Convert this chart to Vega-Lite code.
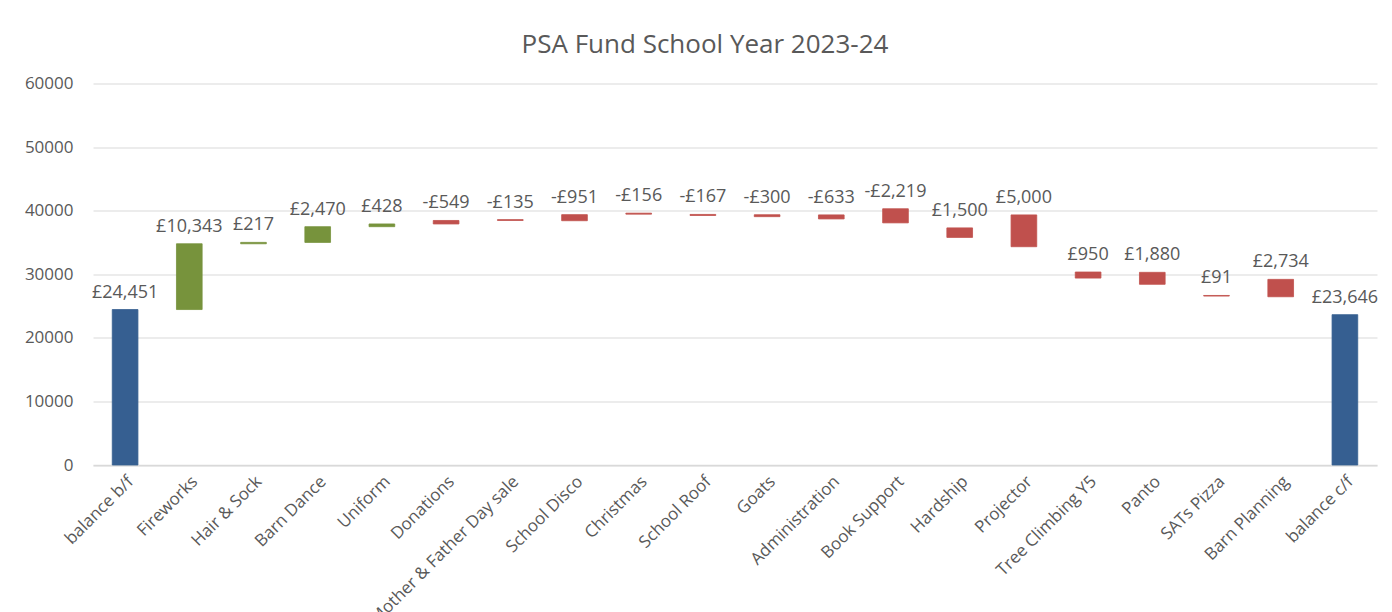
{
  "$schema": "https://vega.github.io/schema/vega-lite/v6.json",
  "width": 1284,
  "height": 381.5,
  "autosize": {"type": "none"},
  "padding": {"left": 93, "top": 83.5, "right": 15, "bottom": 147},
  "background": "white",
  "title": {
    "text": "PSA Fund School Year 2023-24",
    "font": "Open Sans",
    "fontSize": 26,
    "fontWeight": "normal",
    "color": "#595959",
    "anchor": "middle",
    "dx": -30,
    "offset": 17
  },
  "config": {
    "view": {"stroke": null},
    "font": "Open Sans"
  },
  "data": {
    "values": [
      {"cat": "balance b/f", "low": 0, "high": 24451, "type": "total", "label": "£24,451"},
      {"cat": "Fireworks", "low": 24451, "high": 34794, "type": "increase", "label": "£10,343"},
      {"cat": "Hair & Sock", "low": 34794, "high": 35011, "type": "increase", "label": "£217"},
      {"cat": "Barn Dance", "low": 35011, "high": 37481, "type": "increase", "label": "£2,470"},
      {"cat": "Uniform", "low": 37481, "high": 37909, "type": "increase", "label": "£428"},
      {"cat": "Donations", "low": 37909, "high": 38458, "type": "decrease", "label": "-£549"},
      {"cat": "Mother & Father Day sale", "low": 38458, "high": 38593, "type": "decrease", "label": "-£135"},
      {"cat": "School Disco", "low": 38420, "high": 39371, "type": "decrease", "label": "-£951"},
      {"cat": "Christmas", "low": 39450, "high": 39606, "type": "decrease", "label": "-£156"},
      {"cat": "School Roof", "low": 39240, "high": 39407, "type": "decrease", "label": "-£167"},
      {"cat": "Goats", "low": 39060, "high": 39360, "type": "decrease", "label": "-£300"},
      {"cat": "Administration", "low": 38700, "high": 39333, "type": "decrease", "label": "-£633"},
      {"cat": "Book Support", "low": 38080, "high": 40299, "type": "decrease", "label": "-£2,219"},
      {"cat": "Hardship", "low": 35790, "high": 37290, "type": "decrease", "label": "£1,500"},
      {"cat": "Projector", "low": 34330, "high": 39330, "type": "decrease", "label": "£5,000"},
      {"cat": "Tree Climbing Y5", "low": 29400, "high": 30350, "type": "decrease", "label": "£950"},
      {"cat": "Panto", "low": 28420, "high": 30300, "type": "decrease", "label": "£1,880"},
      {"cat": "SATs Pizza", "low": 26570, "high": 26661, "type": "decrease", "label": "£91"},
      {"cat": "Barn Planning", "low": 26460, "high": 29194, "type": "decrease", "label": "£2,734"},
      {"cat": "balance c/f", "low": 0, "high": 23646, "type": "total", "label": "£23,646"}
    ]
  },
  "encoding": {
    "x": {
      "field": "cat",
      "type": "nominal",
      "sort": null,
      "scale": {"paddingInner": 0.6, "paddingOuter": 0.3},
      "axis": {
        "title": null,
        "labelAngle": -45,
        "labelFont": "Open Sans",
        "labelFontSize": 17,
        "labelColor": "#595959",
        "labelPadding": 8,
        "labelLimit": 0,
        "ticks": false,
        "domainColor": "#d9d9d9",
        "domainWidth": 1.5
      }
    }
  },
  "layer": [
    {
      "mark": {"type": "bar", "strokeWidth": 0.8},
      "encoding": {
        "y": {
          "field": "low",
          "type": "quantitative",
          "scale": {"domain": [0, 60000], "nice": false},
          "axis": {
            "title": null,
            "values": [0, 10000, 20000, 30000, 40000, 50000, 60000],
            "format": "d",
            "domain": false,
            "ticks": false,
            "gridColor": "#d9d9d9",
            "gridWidth": 1.2,
            "labelFont": "Open Sans",
            "labelFontSize": 17,
            "labelColor": "#595959",
            "labelPadding": 20
          }
        },
        "y2": {"field": "high"},
        "color": {
          "field": "type",
          "type": "nominal",
          "scale": {"domain": ["total", "increase", "decrease"], "range": ["#365F91", "#77933C", "#C0504D"]},
          "legend": null
        },
        "stroke": {
          "field": "type",
          "type": "nominal",
          "scale": {"domain": ["total", "increase", "decrease"], "range": ["#365F91", "#77933C", "#C0504D"]},
          "legend": null
        }
      }
    },
    {
      "mark": {"type": "text", "baseline": "bottom", "dy": -8, "fontSize": 18, "font": "Open Sans", "color": "#595959"},
      "encoding": {
        "y": {"field": "high", "type": "quantitative"},
        "text": {"field": "label", "type": "nominal"}
      }
    }
  ]
}
